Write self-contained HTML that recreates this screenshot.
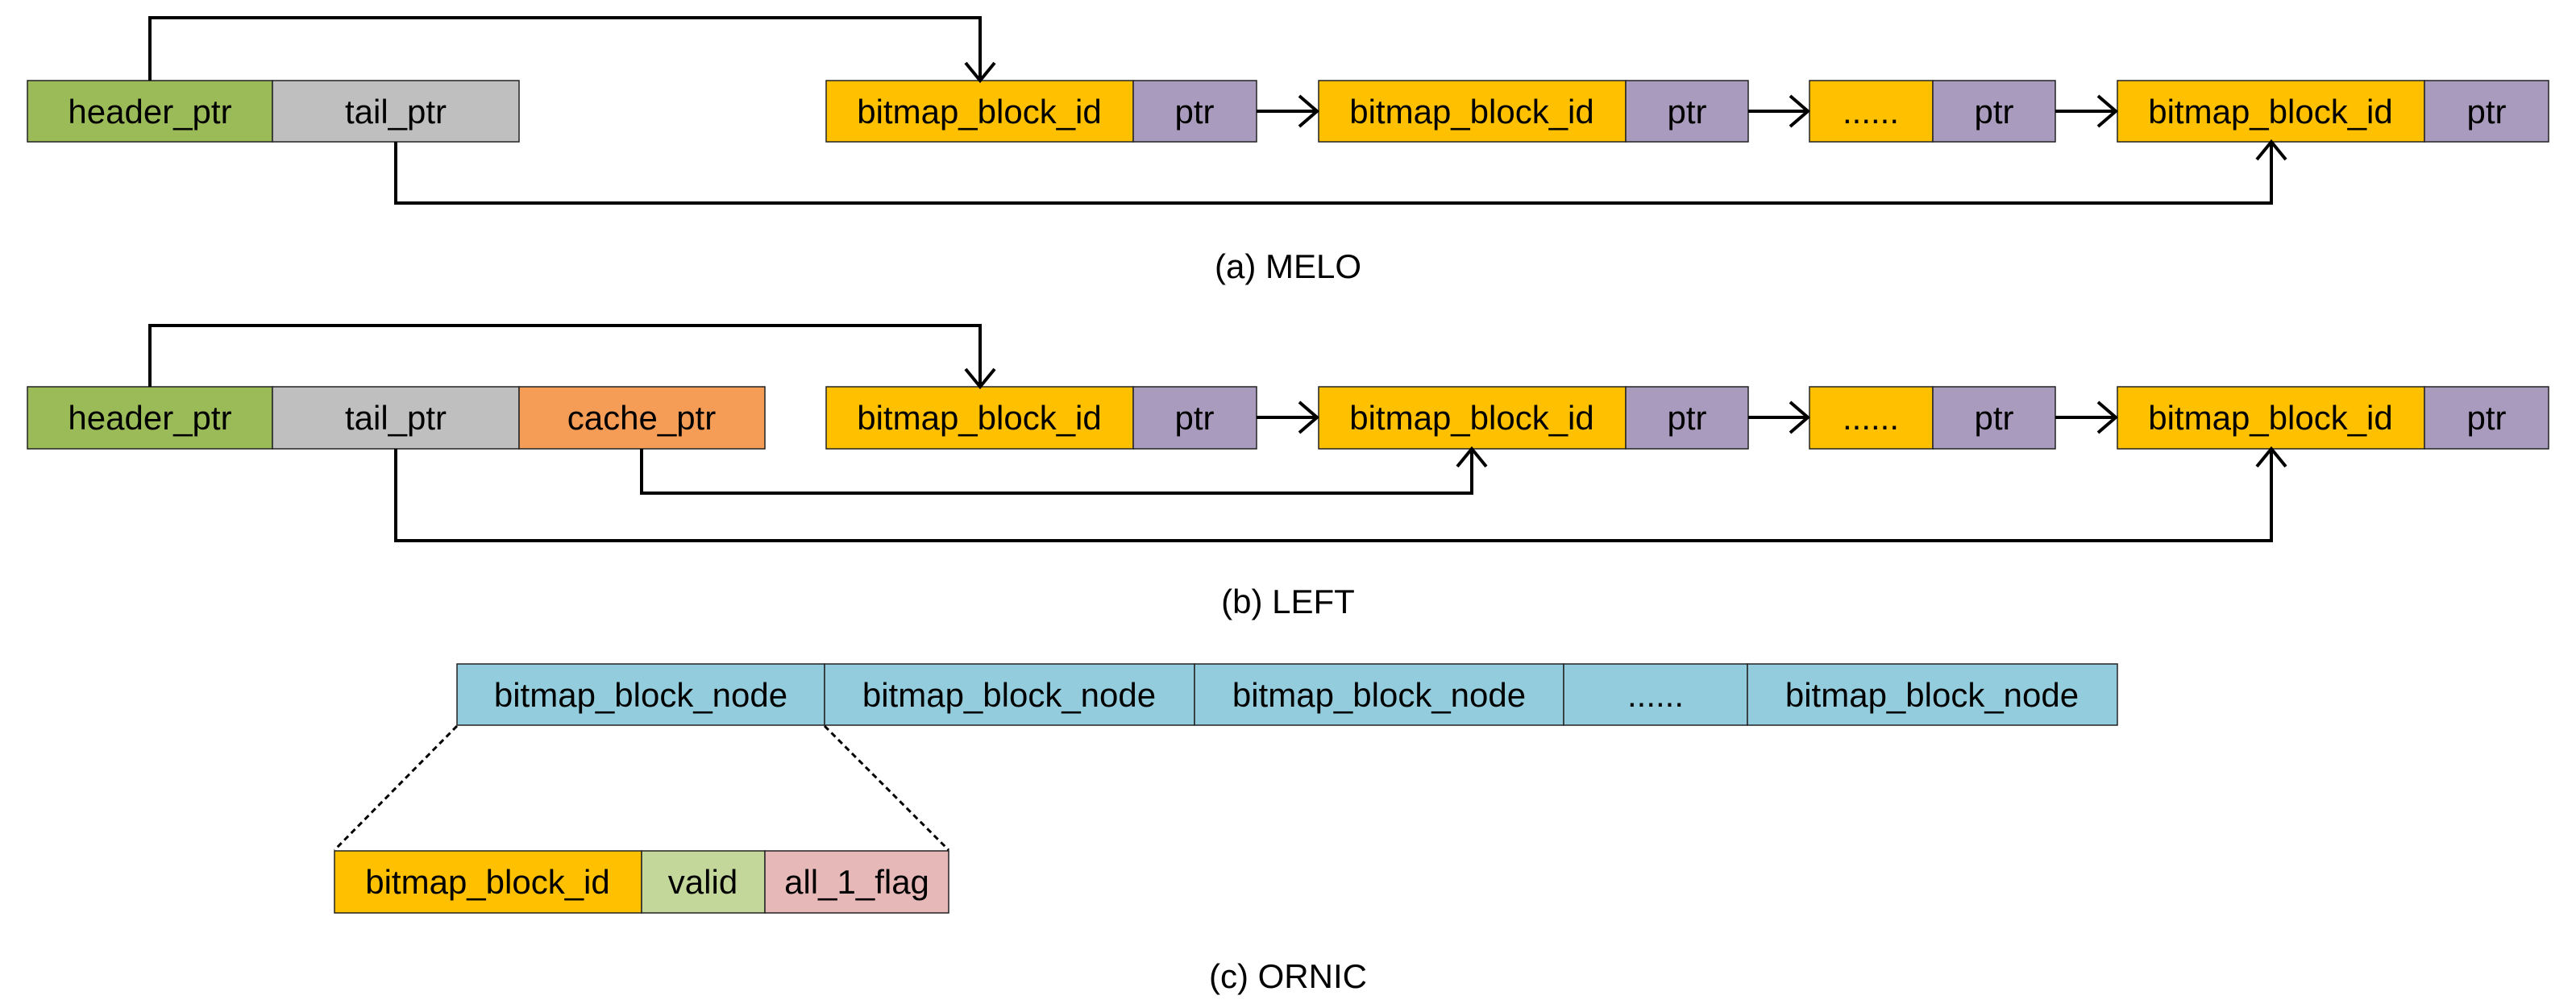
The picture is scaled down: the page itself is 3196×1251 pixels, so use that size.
<!DOCTYPE html>
<html><head><meta charset="utf-8"><style>html,body{margin:0;padding:0;background:#fff}svg{display:block}</style></head>
<body>
<svg width="3196" height="1251" viewBox="0 0 3196 1251" xmlns="http://www.w3.org/2000/svg" font-family="Liberation Sans, Arial, sans-serif" font-size="42">
<g stroke="#222" stroke-width="1.5">
<rect x="34" y="100" width="304" height="76" fill="#9BBB59"/>
<rect x="338" y="100" width="306" height="76" fill="#BFBFBF"/>
<rect x="1025" y="100" width="381" height="76" fill="#FFC000"/>
<rect x="1406" y="100" width="153" height="76" fill="#A99BBD"/>
<rect x="1636" y="100" width="381" height="76" fill="#FFC000"/>
<rect x="2017" y="100" width="152" height="76" fill="#A99BBD"/>
<rect x="2245" y="100" width="153" height="76" fill="#FFC000"/>
<rect x="2398" y="100" width="152" height="76" fill="#A99BBD"/>
<rect x="2627" y="100" width="381" height="76" fill="#FFC000"/>
<rect x="3008" y="100" width="154" height="76" fill="#A99BBD"/>
<rect x="34" y="480" width="304" height="77" fill="#9BBB59"/>
<rect x="338" y="480" width="306" height="77" fill="#BFBFBF"/>
<rect x="644" y="480" width="305" height="77" fill="#F59D56"/>
<rect x="1025" y="480" width="381" height="77" fill="#FFC000"/>
<rect x="1406" y="480" width="153" height="77" fill="#A99BBD"/>
<rect x="1636" y="480" width="381" height="77" fill="#FFC000"/>
<rect x="2017" y="480" width="152" height="77" fill="#A99BBD"/>
<rect x="2245" y="480" width="153" height="77" fill="#FFC000"/>
<rect x="2398" y="480" width="152" height="77" fill="#A99BBD"/>
<rect x="2627" y="480" width="381" height="77" fill="#FFC000"/>
<rect x="3008" y="480" width="154" height="77" fill="#A99BBD"/>
<rect x="567" y="824" width="456" height="76" fill="#93CDDD"/>
<rect x="1023" y="824" width="459" height="76" fill="#93CDDD"/>
<rect x="1482" y="824" width="458" height="76" fill="#93CDDD"/>
<rect x="1940" y="824" width="228" height="76" fill="#93CDDD"/>
<rect x="2168" y="824" width="459" height="76" fill="#93CDDD"/>
<rect x="415" y="1056" width="381" height="77" fill="#FFC000"/>
<rect x="796" y="1056" width="153" height="77" fill="#C4D79B"/>
<rect x="949" y="1056" width="228" height="77" fill="#E6B9B8"/>
</g>
<g fill="none" stroke="#000" stroke-width="4">
<polyline points="186,100 186,22 1216,22 1216,98"/>
<polyline points="1198,78 1216,100 1234,78"/>
<polyline points="491,176 491,252 2818,252 2818,178"/>
<polyline points="2800,198 2818,176 2836,198"/>
<line x1="1559" y1="138" x2="1634" y2="138"/><polyline points="1612,119 1634,138 1612,157"/>
<line x1="2169" y1="138" x2="2243" y2="138"/><polyline points="2221,119 2243,138 2221,157"/>
<line x1="2550" y1="138" x2="2625" y2="138"/><polyline points="2603,119 2625,138 2603,157"/>
<polyline points="186,480 186,404 1216,404 1216,478"/>
<polyline points="1198,458 1216,480 1234,458"/>
<polyline points="491,557 491,671 2818,671 2818,559"/>
<polyline points="2800,579 2818,557 2836,579"/>
<polyline points="796,557 796,612 1826,612 1826,559"/>
<polyline points="1808,579 1826,557 1844,579"/>
<line x1="1559" y1="518" x2="1634" y2="518"/><polyline points="1612,499 1634,518 1612,537"/>
<line x1="2169" y1="518" x2="2243" y2="518"/><polyline points="2221,499 2243,518 2221,537"/>
<line x1="2550" y1="518" x2="2625" y2="518"/><polyline points="2603,499 2625,518 2603,537"/>
</g>
<g stroke="#000" stroke-width="3" stroke-dasharray="7,5" fill="none">
<line x1="567" y1="901" x2="415" y2="1055"/>
<line x1="1023" y1="901" x2="1177" y2="1055"/>
</g>
<g text-anchor="middle" fill="#000">
<text x="186" y="153">header_ptr</text>
<text x="491" y="153">tail_ptr</text>
<text x="1215" y="153">bitmap_block_id</text>
<text x="1482" y="153">ptr</text>
<text x="1826" y="153">bitmap_block_id</text>
<text x="2093" y="153">ptr</text>
<text x="2321" y="153">......</text>
<text x="2474" y="153">ptr</text>
<text x="2817" y="153">bitmap_block_id</text>
<text x="3085" y="153">ptr</text>
<text x="1598" y="345">(a) MELO</text>
<text x="186" y="533">header_ptr</text>
<text x="491" y="533">tail_ptr</text>
<text x="796" y="533">cache_ptr</text>
<text x="1215" y="533">bitmap_block_id</text>
<text x="1482" y="533">ptr</text>
<text x="1826" y="533">bitmap_block_id</text>
<text x="2093" y="533">ptr</text>
<text x="2321" y="533">......</text>
<text x="2474" y="533">ptr</text>
<text x="2817" y="533">bitmap_block_id</text>
<text x="3085" y="533">ptr</text>
<text x="1598" y="761">(b) LEFT</text>
<text x="795" y="877">bitmap_block_node</text>
<text x="1252" y="877">bitmap_block_node</text>
<text x="1711" y="877">bitmap_block_node</text>
<text x="2054" y="877">......</text>
<text x="2397" y="877">bitmap_block_node</text>
<text x="605" y="1109">bitmap_block_id</text>
<text x="872" y="1109">valid</text>
<text x="1063" y="1109">all_1_flag</text>
<text x="1598" y="1226">(c) ORNIC</text>
</g>
</svg>
</body></html>
